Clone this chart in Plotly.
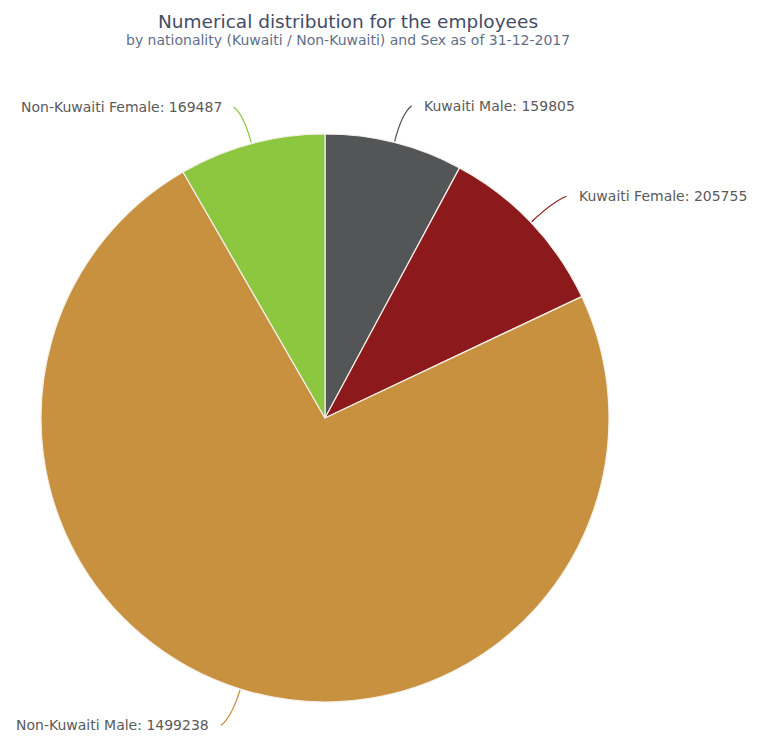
import math
import plotly.graph_objects as go

labels = ["Kuwaiti Male", "Kuwaiti Female", "Non-Kuwaiti Male", "Non-Kuwaiti Female"]
values = [159805, 205755, 1499238, 169487]
colors = ["#545557", "#8c1a1d", "#c8913f", "#8dc63f"]

title_text = "Numerical distribution for the employees"
subtitle_text = "by nationality (Kuwaiti / Non-Kuwaiti) and Sex as of 31-12-2017"

W, H = 770, 742
CX, CY, R = 325, 418, 284  # pie centre and radius in pixels

def px(x):
    return x / W

def py(y):
    return 1 - y / H

fig = go.Figure()
fig.add_trace(go.Pie(
    labels=labels,
    values=values,
    marker=dict(colors=colors, line=dict(color="#f4f0ea", width=1.2)),
    sort=False,
    direction="clockwise",
    rotation=0,
    textinfo="none",
    hoverinfo="label+value",
    showlegend=False,
    domain=dict(x=[px(CX - R), px(CX + R)], y=[py(CY + R), py(CY - R)]),
))

# data labels with connectors, positioned from the slice angles
total = sum(values)
cum = 0.0
shapes = []
annotations = []
for lab, val, col in zip(labels, values, colors):
    frac = val / total
    mid = (cum + frac / 2) * 2 * math.pi
    cum += frac
    s, c = math.sin(mid), math.cos(mid)
    ex, ey = CX + (R + 1) * s, CY - (R + 1) * c
    kx, ky = CX + (R + 30) * s, CY - (R + 30) * c
    side = 1 if s >= 0 else -1
    tx, ty = CX + (R + 38) * s + 8 * side, CY - (R + 38) * c
    path = (f"M {px(ex)},{py(ey)} Q {px(kx)},{py(ky)} {px(tx)},{py(ty)}")
    shapes.append(dict(type="path", xref="paper", yref="paper", path=path,
                       line=dict(color=col, width=1.2)))
    annotations.append(dict(
        x=px(tx + 10 * side), y=py(ty), xref="paper", yref="paper",
        text=f"{lab}: {val}", showarrow=False,
        xanchor="left" if side > 0 else "right", yanchor="middle",
        font=dict(family="DejaVu Sans", size=14, color="#5a5a5a"),
    ))

annotations.append(dict(
    x=px(348), y=py(40), xref="paper", yref="paper",
    text=subtitle_text, showarrow=False, xanchor="center", yanchor="middle",
    font=dict(family="DejaVu Sans", size=14, color="#5f6f88"),
))

fig.update_layout(
    width=W, height=H,
    margin=dict(l=0, r=0, t=0, b=0),
    paper_bgcolor="white", plot_bgcolor="white",
    title=dict(text=title_text, x=px(348), xanchor="center",
               y=py(22), yanchor="middle", yref="container",
               font=dict(family="DejaVu Sans", size=18.5, color="#3f4d66")),
    shapes=shapes,
    annotations=annotations,
)

fig.write_html("out.html", config={"displayModeBar": False},
               post_script="document.body.style.margin='0';")
